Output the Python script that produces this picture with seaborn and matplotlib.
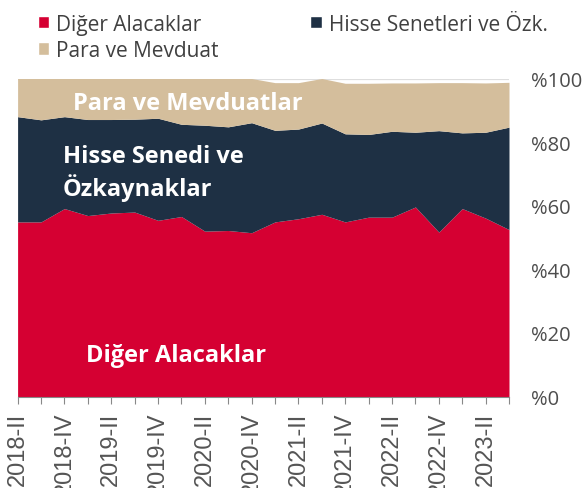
import numpy as np
import pandas as pd
import seaborn as sns
import matplotlib.pyplot as plt
from matplotlib.patches import Patch

# ── Data (share of total, %) ───────────────────────────────────────────────────
quarters = ['2018-II', '2018-III', '2018-IV', '2019-I', '2019-II', '2019-III',
            '2019-IV', '2020-I', '2020-II', '2020-III', '2020-IV', '2021-I',
            '2021-II', '2021-III', '2021-IV', '2022-I', '2022-II', '2022-III',
            '2022-IV', '2023-I', '2023-II', '2023-III']

diger_alacaklar = [54.9, 54.9, 59.1, 56.9, 57.7, 58.0, 55.4, 56.6, 52.0, 52.2, 51.5,
                   54.9, 55.9, 57.3, 54.9, 56.4, 56.4, 59.6, 51.7, 59.1, 56.1, 52.5]
hisse_senetleri = [33.1, 32.1, 28.9, 30.2, 29.4, 29.2, 32.1, 29.0, 33.3, 32.6, 34.6,
                   28.8, 28.2, 28.7, 27.7, 26.0, 27.0, 23.5, 31.9, 23.8, 27.0, 32.2]
para_mevduat    = [12.0, 13.0, 12.0, 12.9, 12.9, 12.8, 12.5, 14.4, 14.7, 15.2, 13.9,
                   15.0, 14.6, 14.0, 15.9, 16.1, 15.2, 15.5, 15.1, 15.8, 15.5, 14.1]

series_names = ['Diğer Alacaklar', 'Hisse Senetleri ve Özk.', 'Para ve Mevduat']
colors = ['#D50032', '#1E3044', '#D4BE9C']
y_ticks = [0, 20, 40, 60, 80, 100]

df = pd.DataFrame({'quarter': quarters,
                   series_names[0]: diger_alacaklar,
                   series_names[1]: hisse_senetleri,
                   series_names[2]: para_mevduat})

# ── Style ──────────────────────────────────────────────────────────────────────
sns.set_theme(style='white')
plt.rcParams['font.family'] = ['Open Sans', 'DejaVu Sans']

fig = plt.figure(figsize=(5.83, 4.89), dpi=100)
ax = fig.add_axes([17.6 / 583, 1 - 397.5 / 489, 491.4 / 583, 318 / 489])

x = np.arange(len(df))
ax.axhline(100, color='#dedede', lw=1.6, zorder=0)
ax.stackplot(x, df[series_names[0]], df[series_names[1]], df[series_names[2]],
             colors=colors, lw=0, zorder=2)

ax.set_xlim(0, len(df) - 1)
ax.set_ylim(0, 100)

# ── Axes ───────────────────────────────────────────────────────────────────────
sns.despine(ax=ax, left=True, top=True, right=True)
ax.spines['bottom'].set_color('#888888')
ax.spines['bottom'].set_linewidth(0.8)

ax.set_xticks(x)
ax.set_xticklabels([q if i % 2 == 0 else '' for i, q in enumerate(quarters)],
                   rotation=90, fontsize=17, color='#555555',
                   family='Liberation Sans')
ax.tick_params(axis='x', bottom=True, length=5, width=0.8, color='#888888', pad=6)

ax.yaxis.tick_right()
ax.set_yticks(y_ticks)
ax.set_yticklabels([f'%{v}' for v in y_ticks], fontsize=14.5, color='#4d4d4d')
ax.tick_params(axis='y', right=False, left=False, pad=9.5)
ax.grid(False)

# ── Labels inside areas ────────────────────────────────────────────────────────
lab = dict(transform=ax.transAxes, color='white', fontsize=17, fontweight='bold',
           va='baseline', ha='left', zorder=5)
ax.text(0.113, 0.904, 'Para ve Mevduatlar', **lab)
ax.text(0.092, 0.737, 'Hisse Senedi ve', **lab)
ax.text(0.092, 0.634, 'Özkaynaklar', **lab)
ax.text(0.139, 0.112, 'Diğer Alacaklar', **lab)

# ── Legend ─────────────────────────────────────────────────────────────────────
handles = [Patch(facecolor=colors[0], label=series_names[0]),
           Patch(facecolor=colors[2], label=series_names[2]),
           Patch(facecolor=colors[1], label=series_names[1])]
fig.legend(handles=handles, loc='upper left', bbox_to_anchor=(0.040, 1.0),
           ncol=2, frameon=False, fontsize=15, handlelength=0.55,
           handleheight=0.55, handletextpad=0.33, columnspacing=4.4,
           labelspacing=0.25, labelcolor='#404040', borderaxespad=0.3)

plt.savefig('out.png', dpi=100)
